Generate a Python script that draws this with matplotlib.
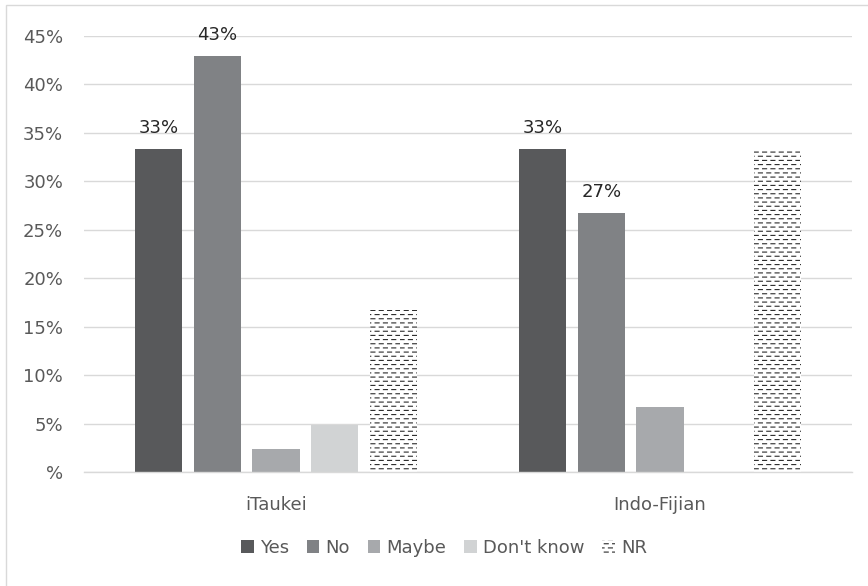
import numpy as np
import matplotlib
matplotlib.use("Agg")
import matplotlib.pyplot as plt
from matplotlib import hatch as mhatch
from matplotlib.path import Path
from matplotlib.patches import Rectangle
from matplotlib.ticker import FuncFormatter

# ------------------------------
# Data (share of respondents)
# ------------------------------
groups = ["iTaukei", "Indo-Fijian"]
answers = ["Yes", "No", "Maybe", "Don't know", "NR"]
yes_vals = [33.3, 33.3]
no_vals = [42.9, 26.7]
maybe_vals = [2.4, 6.7]
dont_know_vals = [4.8, 0.0]
nr_vals = [16.7, 33.3]
labelled = ["Yes", "No"]  # only these series carry value labels

series = [yes_vals, no_vals, maybe_vals, dont_know_vals, nr_vals]
colors = ["#58595b", "#808285", "#a7a9ac", "#d1d3d4", "white"]


# ------------------------------
# Dashed-row hatch used for the NR bars ('-' rows of short dashes)
# ------------------------------
class DashedRows(mhatch.HatchPatternBase):
    def __init__(self, hatch, density):
        self.num_rows = int(hatch.count('-') * density)
        self.num_dashes = 12
        self.num_vertices = self.num_rows * self.num_dashes * 2

    def set_vertices_and_codes(self, vertices, codes):
        rows = (np.arange(self.num_rows) + 0.5) / self.num_rows
        half = 0.02
        i = 0
        for r, y in enumerate(rows):
            shift = 0.25 if r % 2 == 0 else 0.75
            for k in range(self.num_dashes):
                cx = (k + shift) / self.num_dashes
                vertices[i] = (cx - half, y)
                vertices[i + 1] = (cx + half, y)
                codes[i] = Path.MOVETO
                codes[i + 1] = Path.LINETO
                i += 2


mhatch._hatch_types[0] = DashedRows

plt.rcParams['font.family'] = ['DejaVu Sans']
plt.rcParams['hatch.linewidth'] = 0.8
fs = 13

# ------------------------------
# Figure
# ------------------------------
fig = plt.figure(figsize=(8.68, 5.86), dpi=100)
ax = fig.add_axes([84 / 868, 1 - 472 / 586, 768 / 868, 436 / 586])

x = np.arange(len(groups))
width = 0.1224
stride = 0.1526

for i, (name, vals, col) in enumerate(zip(answers, series, colors)):
    pos = x + (i - 2) * stride
    if name == "NR":
        bars = ax.bar(pos, vals, width, color=col, edgecolor="#2b2b2b",
                      linewidth=0, hatch="----", label=name)
    else:
        bars = ax.bar(pos, vals, width, color=col, linewidth=0, label=name)
    if name in labelled:
        for b, v in zip(bars, vals):
            ax.annotate(f"{v:.0f}%", (b.get_x() + b.get_width() / 2, v),
                        xytext=(0, 9), textcoords="offset points",
                        ha="center", va="bottom", fontsize=fs,
                        color="#262626")

ax.set_xlim(-0.5, 1.5)
ax.set_ylim(0, 45)
ax.set_yticks(np.arange(0, 46, 5))
ax.yaxis.set_major_formatter(FuncFormatter(lambda v, p: "%" if v == 0 else f"{v:.0f}%"))
ax.set_xticks(x)
ax.set_xticklabels(groups)

ax.grid(axis="y", color="#d9d9d9", linewidth=1)
ax.set_axisbelow(True)
for s in ["top", "right", "left"]:
    ax.spines[s].set_visible(False)
ax.spines["bottom"].set_color("#d9d9d9")
ax.spines["bottom"].set_linewidth(1)
ax.tick_params(axis="both", length=0, labelsize=fs, colors="#595959")
ax.tick_params(axis="y", pad=15)
ax.tick_params(axis="x", pad=17)

fig.legend(loc="center", bbox_to_anchor=(444 / 868, 1 - 548 / 586), ncol=5,
           frameon=False, fontsize=fs, handlelength=0.7, handleheight=0.7,
           handletextpad=0.35, columnspacing=0.97, labelcolor="#595959")

# light frame round the chart
fig.patches.append(Rectangle((6 / 868, -0.02), 1.0, 1.02 - 5 / 586,
                             transform=fig.transFigure, fill=False,
                             edgecolor="#d9d9d9", linewidth=1))

fig.savefig("out.png", dpi=100)
